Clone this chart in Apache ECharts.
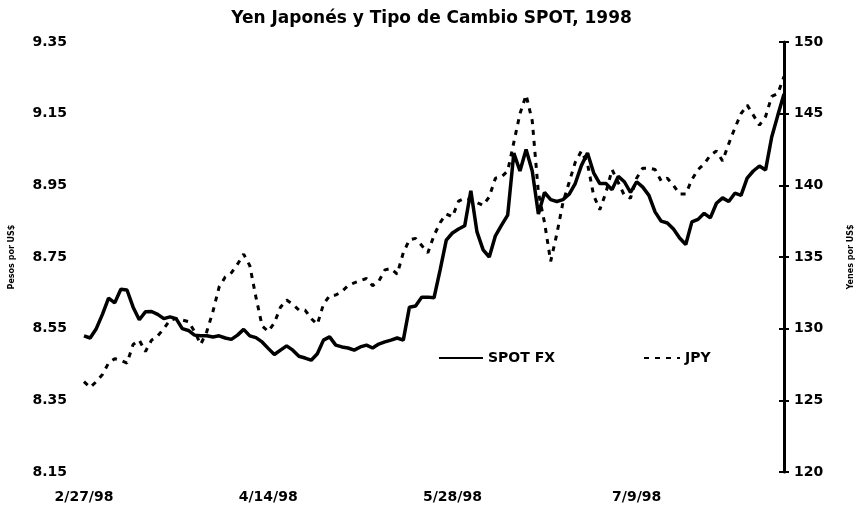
<!DOCTYPE html>
<html>
<head>
<meta charset="utf-8">
<script src="https://cdn.jsdelivr.net/npm/echarts@6/dist/echarts.min.js"></script>
<style>html,body{margin:0;padding:0;background:#fff;}#c{width:863px;height:507px;}</style>
</head>
<body>
<div id="c"></div>
<script>
var dates = ['2/27/98',
'3/2/98','3/3/98','3/4/98','3/5/98','3/6/98','3/9/98','3/10/98','3/11/98','3/12/98','3/13/98',
'3/16/98','3/17/98','3/18/98','3/19/98','3/20/98','3/23/98','3/24/98','3/25/98','3/26/98','3/27/98','3/30/98','3/31/98',
'4/1/98','4/2/98','4/3/98','4/6/98','4/7/98','4/8/98','4/13/98','4/14/98',
'4/15/98','4/16/98','4/17/98','4/20/98','4/21/98','4/22/98','4/23/98','4/24/98','4/27/98','4/28/98','4/29/98','4/30/98',
'5/4/98','5/5/98','5/6/98','5/7/98','5/8/98','5/11/98','5/12/98','5/13/98','5/14/98','5/15/98',
'5/18/98','5/19/98','5/20/98','5/21/98','5/22/98','5/26/98','5/27/98','5/28/98','5/29/98',
'6/1/98','6/2/98','6/3/98','6/4/98','6/5/98','6/8/98','6/9/98','6/10/98','6/11/98','6/12/98',
'6/15/98','6/16/98','6/17/98','6/18/98','6/19/98','6/22/98','6/23/98','6/24/98','6/25/98','6/26/98','6/29/98','6/30/98',
'7/1/98','7/2/98','7/3/98','7/6/98','7/7/98','7/8/98','7/9/98','7/10/98',
'7/13/98','7/14/98','7/15/98','7/16/98','7/17/98','7/20/98','7/21/98','7/22/98','7/23/98','7/24/98',
'7/27/98','7/28/98','7/29/98','7/30/98','7/31/98','8/3/98','8/4/98','8/5/98','8/6/98','8/7/98',
'8/10/98','8/11/98','8/12/98'];

var spotFX = [8.530,8.524,8.550,8.590,8.635,8.622,8.660,8.658,8.610,8.575,
8.597,8.598,8.590,8.578,8.583,8.578,8.550,8.545,8.532,8.530,
8.530,8.527,8.530,8.524,8.520,8.532,8.548,8.530,8.525,8.513,
8.495,8.478,8.490,8.502,8.490,8.473,8.468,8.462,8.480,8.518,
8.527,8.504,8.499,8.496,8.490,8.499,8.504,8.496,8.507,8.513,
8.518,8.524,8.518,8.610,8.613,8.638,8.638,8.636,8.714,8.797,
8.817,8.828,8.837,8.935,8.820,8.770,8.750,8.809,8.839,8.867,
9.040,8.990,9.050,8.990,8.870,8.930,8.910,8.905,8.910,8.925,
8.955,9.005,9.040,8.985,8.955,8.955,8.938,8.975,8.960,8.930,
8.960,8.945,8.922,8.876,8.850,8.845,8.828,8.803,8.785,8.848,
8.855,8.872,8.859,8.900,8.915,8.905,8.928,8.922,8.970,8.990,
9.004,8.993,9.085,9.146,9.205];

var jpy = [126.3,125.9,126.3,126.8,127.6,127.9,127.8,127.6,128.9,129.2,
128.4,129.2,129.5,130.0,130.6,130.7,130.6,130.5,129.8,128.9,
129.8,131.2,132.9,133.6,133.9,134.5,135.2,134.4,132.2,130.2,
129.8,130.4,131.5,132.0,131.7,131.3,131.3,130.7,130.3,131.7,
132.3,132.35,132.6,133.0,133.2,133.35,133.5,133.0,133.3,134.1,
134.2,133.8,135.3,136.2,136.3,135.8,135.3,136.5,137.4,138.0,
137.8,138.9,139.1,139.0,138.8,138.6,139.2,140.5,140.6,141.0,
143.0,145.0,146.3,144.5,139.5,137.4,134.7,136.6,138.8,140.2,
141.6,142.4,141.5,139.3,138.3,139.5,141.1,140.2,139.3,139.1,
140.5,141.2,141.2,141.1,140.3,140.5,140.0,139.4,139.4,140.4,
141.1,141.5,142.1,142.4,141.7,142.9,144.0,145.0,145.6,144.9,
144.2,144.8,146.2,146.4,147.6];

var leftTicks = [8.15, 8.35, 8.55, 8.75, 8.95, 9.15, 9.35];
var rightTicks = [120, 125, 130, 135, 140, 145, 150];

var FONT = 'DejaVu Sans';
var chart = echarts.init(document.getElementById('c'), null, {renderer: 'canvas'});
chart.setOption({
  animation: false,
  backgroundColor: '#fff',
  textStyle: {fontFamily: FONT},
  title: {
    text: 'Yen Japonés y Tipo de Cambio SPOT, 1998',
    left: 'center', top: 5,
    textStyle: {fontFamily: FONT, fontSize: 17, fontWeight: 'bold', color: '#000'}
  },
  legend: [
    {data: ['SPOT FX'], left: 433, top: 346, itemWidth: 44, itemHeight: 14,
     itemStyle: {opacity: 0},
     textStyle: {fontFamily: FONT, fontSize: 14, fontWeight: 'bold', color: '#000'}},
    {data: ['JPY'], left: 638, top: 346, itemWidth: 36, itemHeight: 14,
     itemStyle: {opacity: 0},
     textStyle: {fontFamily: FONT, fontSize: 14, fontWeight: 'bold', color: '#000'}}
  ],
  grid: {left: 82, right: 66, top: 42, bottom: 35, containLabel: false},
  xAxis: {
    type: 'category', data: dates, boundaryGap: false,
    axisLine: {show: false}, axisTick: {show: false},
    axisLabel: {interval: 29, margin: 18, fontFamily: FONT, fontSize: 14, fontWeight: 'bold', color: '#000'},
    splitLine: {show: false}
  },
  yAxis: [
    {type: 'value', position: 'left', min: leftTicks[0], max: leftTicks[leftTicks.length-1], interval: 0.2,
     name: 'Pesos por US$', nameLocation: 'middle', nameRotate: 90, nameGap: 68,
     nameTextStyle: {fontFamily: FONT, fontSize: 8, fontWeight: 'bold', color: '#000'},
     axisLine: {show: false}, axisTick: {show: false}, splitLine: {show: false},
     axisLabel: {margin: 17, fontFamily: FONT, fontSize: 14, fontWeight: 'bold', color: '#000',
       formatter: function(v){ return v.toFixed(2); }}},
    {type: 'value', position: 'right', min: rightTicks[0], max: rightTicks[rightTicks.length-1], interval: 5,
     name: 'Yenes por US$', nameLocation: 'middle', nameRotate: 90, nameGap: 63,
     nameTextStyle: {fontFamily: FONT, fontSize: 8, fontWeight: 'bold', color: '#000'},
     axisLine: {show: true, lineStyle: {color: '#000', width: 3}},
     axisTick: {show: true, inside: false, length: 5, lineStyle: {color: '#000', width: 2}},
     splitLine: {show: false},
     axisLabel: {margin: 10, fontFamily: FONT, fontSize: 14, fontWeight: 'bold', color: '#000'}},
    {type: 'value', position: 'right', min: rightTicks[0], max: rightTicks[rightTicks.length-1], interval: 5,
     axisLine: {show: false},
     axisTick: {show: true, inside: true, length: 5, lineStyle: {color: '#000', width: 2}},
     splitLine: {show: false}, axisLabel: {show: false}}
  ],
  series: [
    {name: 'SPOT FX', type: 'line', yAxisIndex: 0, data: spotFX, symbol: 'none',
     lineStyle: {color: '#000', width: 3.5, type: 'solid'}, itemStyle: {color: '#000'}},
    {name: 'JPY', type: 'line', yAxisIndex: 1, data: jpy, symbol: 'none',
     lineStyle: {color: '#000', width: 3, type: [5, 6]}, itemStyle: {color: '#000'}}
  ]
});
</script>
</body>
</html>
